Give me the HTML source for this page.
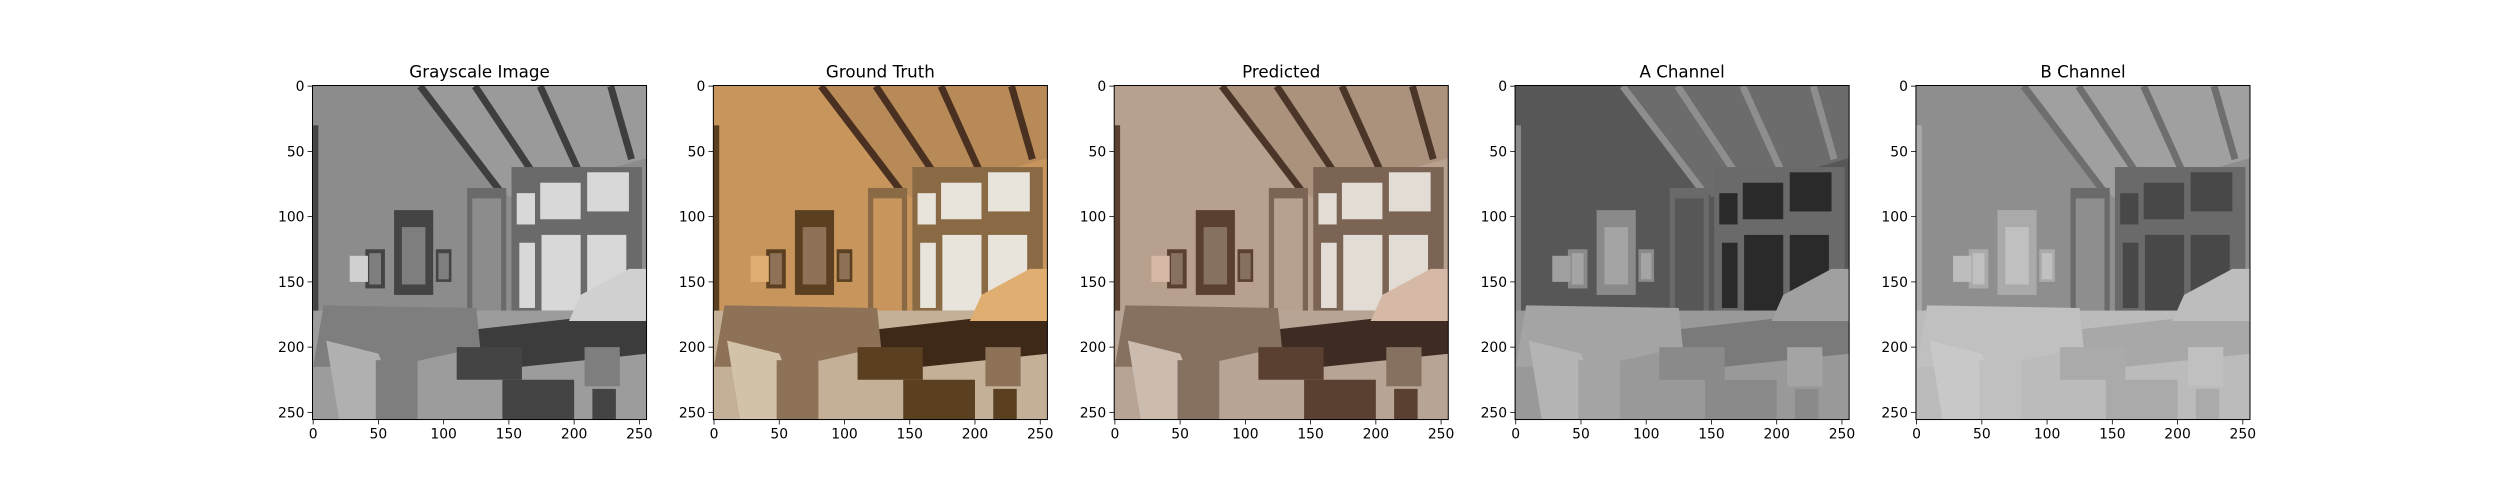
<!DOCTYPE html>
<html><head><meta charset="utf-8">
<style>
html,body{margin:0;padding:0;background:#fff;}
svg{display:block;font-family:"DejaVu Sans","Liberation Sans",sans-serif;}
</style></head>
<body>
<svg id="fig" width="2500" height="500" viewBox="0 0 2500 500" xmlns="http://www.w3.org/2000/svg"></svg>
<script>
const titles = ["Grayscale Image","Ground Truth","Predicted","A Channel","B Channel"];
const ticks = [0,50,100,150,200,250];
const imgSize = [256];
const palettes = [
 {wall:"#8c8c8c",ceil:"#9a9a9a",beam:"#3e3e3e",win:"#d8d8d8",wf:"#6a6a6a",frame:"#444",floor:"#3c3c3c",lamp:"#d0d0d0",furn:"#7e7e7e",rug:"#9c9c9c",sofa:"#b0b0b0"},
 {wall:"#c8965c",ceil:"#b88a58",beam:"#4a3020",win:"#e8e4dc",wf:"#8a6a44",frame:"#5a4020",floor:"#3e2818",lamp:"#e0ae70",furn:"#8e7258",rug:"#c4b096",sofa:"#d2c2a8"},
 {wall:"#b8a08e",ceil:"#aa927c",beam:"#4a3528",win:"#e2dcd4",wf:"#7c6454",frame:"#5a4030",floor:"#3e2c24",lamp:"#d6b8a6",furn:"#86705f",rug:"#b8a494",sofa:"#ccbcb0"},
 {wall:"#575757",ceil:"#6c6c6c",beam:"#8e8e8e",win:"#2a2a2a",wf:"#6a6a6a",frame:"#8a8a8a",floor:"#7a7a7a",lamp:"#a0a0a0",furn:"#a4a4a4",rug:"#999",sofa:"#b4b4b4"},
 {wall:"#8e8e8e",ceil:"#a0a0a0",beam:"#6e6e6e",win:"#484848",wf:"#6a6a6a",frame:"#aaa",floor:"#a8a8a8",lamp:"#bdbdbd",furn:"#c0c0c0",rug:"#bbb",sofa:"#c8c8c8"}
];
const NS="http://www.w3.org/2000/svg";
const fig=document.getElementById('fig');
function el(tag,attrs,parent){const e=document.createElementNS(NS,tag);for(const k in attrs)e.setAttribute(k,attrs[k]);(parent||fig).appendChild(e);return e;}
const W=334.05, gap=66.81, left0=312.5, TOPY=85.5;
titles.forEach((t,i)=>{
  const x0=left0+i*(W+gap);
  const g=el('g',{});
  
  
  const sx=v=>x0+(v+0.5)/imgSize[0]*W;
  const sy=v=>TOPY+(v+0.5)/imgSize[0]*W;
  const p=palettes[i];
  const defs=el('defs',{},g);
  const cp=el('clipPath',{id:'c'+i},defs);
  el('rect',{x:x0,y:TOPY,width:W,height:W},cp);
  const img=el('g',{'clip-path':'url(#c'+i+')'},g);
  
  
  const poly=(pts,fill)=>el('polygon',{points:pts.map(q=>sx(q[0])+','+sy(q[1])).join(' '),fill:fill},img);
  const rect=(a,b,c,d,fill)=>el('rect',{x:sx(a),y:sy(b),width:sx(c)-sx(a),height:sy(d)-sy(b),fill:fill},img);
  rect(-0.5,-0.5,255.5,255.5,p.wall);
  poly([[85,-1],[256,-1],[256,55],[150,85]],p.ceil);
  [[[82,0],[146,84]],[[124,0],[172,72]],[[174,0],[203,64]],[[228,0],[244,56]]].forEach(b=>{
    el('line',{x1:sx(b[0][0]),y1:sy(b[0][1]),x2:sx(b[1][0]),y2:sy(b[1][1]),stroke:p.beam,'stroke-width':7},img);
  });
  rect(0,30,4,180,p.frame);
  rect(118,78,148,175,p.wf); rect(122,86,144,175,p.wall);
  rect(152,62,252,175,p.wf);
  rect(156,82,170,106,p.win);rect(174,74,205,102,p.win);rect(210,66,242,96,p.win);
  rect(158,120,170,170,p.win);rect(175,114,205,172,p.win);rect(210,114,240,160,p.win);
  rect(62,95,92,160,p.frame);rect(68,108,86,152,p.furn);
  rect(40,125,55,155,p.frame);rect(43,128,52,152,p.furn);
  rect(94,125,106,150,p.frame);rect(96,128,104,148,p.furn);
  rect(0,172,256,256,p.rug);
  poly([[110,188],[200,178],[256,178],[256,205],[160,215],[120,215]],p.floor);
  poly([[8,168],[125,170],[128,200],[60,215],[0,215]],p.furn);
  poly([[10,195],[50,205],[70,256],[20,256]],p.sofa);
  rect(48,210,80,256,p.furn);
  rect(110,200,160,225,p.frame);
  rect(145,225,200,256,p.frame);
  poly([[205,160],[242,140],[256,140],[256,180],[196,180]],p.lamp);
  rect(28,130,42,150,p.lamp);
  rect(208,200,235,230,p.furn);
  rect(214,232,232,256,p.frame);
  el('rect',{x:x0,y:TOPY,width:W,height:W,fill:'none',stroke:'#000','stroke-width':1},g);
  const tt=el('text',{x:x0+W/2,y:TOPY-8,'font-size':16.7,'text-anchor':'middle',fill:'#000'},g);
  tt.textContent=t;
  
  
  ticks.forEach(v=>{
    el('line',{x1:sx(v),y1:TOPY+W,x2:sx(v),y2:TOPY+W+4.9,stroke:'#000','stroke-width':0.8},g);
    const a=el('text',{x:sx(v),y:TOPY+W+19,'font-size':13.9,'text-anchor':'middle'},g);
    a.textContent=v;
    
    
    el('line',{x1:x0,y1:sy(v),x2:x0-4.9,y2:sy(v),stroke:'#000','stroke-width':0.8},g);
    const b=el('text',{x:x0-8,y:sy(v)+5,'font-size':13.9,'text-anchor':'end'},g);
    b.textContent=v;
    
    
  });
});
</script>
</body></html>
